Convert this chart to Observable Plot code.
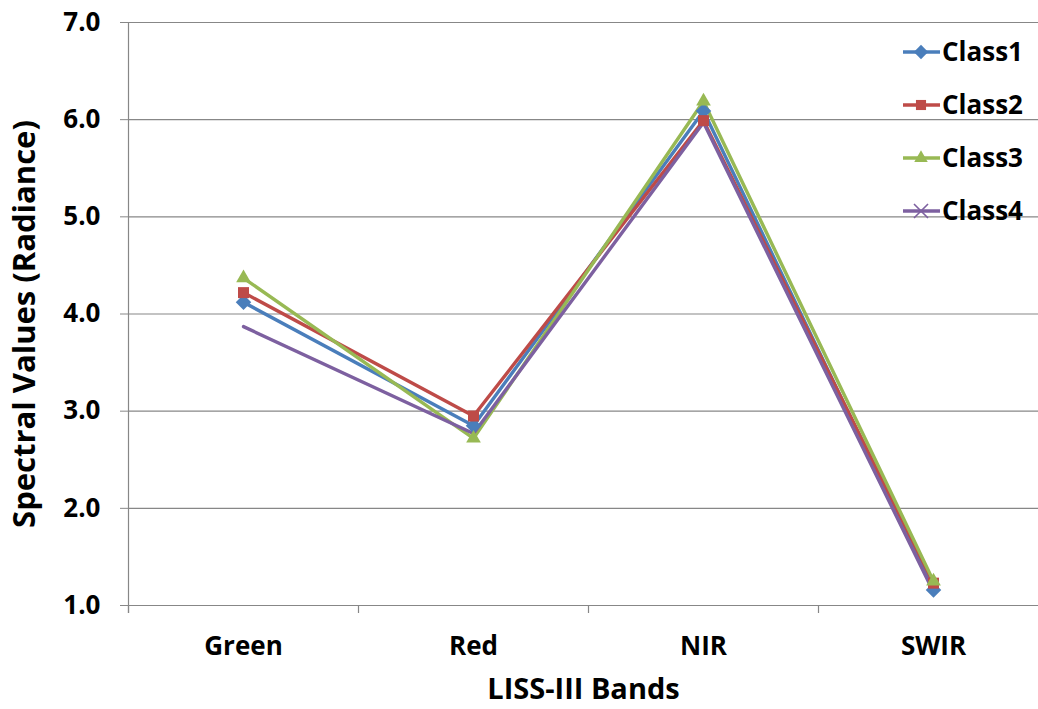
<!DOCTYPE html>
<html>
<head>
<meta charset="utf-8">
<script src="https://cdn.jsdelivr.net/npm/d3@7"></script>
<script src="https://cdn.jsdelivr.net/npm/@observablehq/plot@0.6"></script>
<style>
  body { margin: 0; background: #fff; }
  #wrap { position: relative; width: 1038px; height: 709px; overflow: hidden; }
  #wrap svg { font-family: "Open Sans", sans-serif; }
  #legend { position: absolute; left: 0; top: 0; }
</style>
</head>
<body>
<div id="wrap"></div>
<script>
const bands = ["Green", "Red", "NIR", "SWIR"];
const classes = ["Class1", "Class2", "Class3", "Class4"];
const colors = ["#4A7EBB", "#BE4B48", "#98B954", "#7D60A0"];
const symbols = ["diamond2", "square2", "triangle2", "times"];
const class1 = [4.12, 2.85, 6.09, 1.16];
const class2 = [4.22, 2.95, 5.99, 1.23];
const class3 = [4.37, 2.72, 6.19, 1.25];
const class4 = [3.87, 2.77, 5.97, 1.14];
const yTicks = [1, 2, 3, 4, 5, 6, 7];

const series = [class1, class2, class3, class4];
const data = [];
classes.forEach((c, i) => bands.forEach((b, j) => data.push({cls: c, band: b, value: series[i][j]})));

const FONT = "'Open Sans', sans-serif";
const chart = Plot.plot({
  width: 1038,
  height: 709,
  marginTop: 22,
  marginBottom: 104,
  marginLeft: 128,
  marginRight: 0,
  style: {fontFamily: FONT, background: "#fff", overflow: "visible"},
  x: {type: "band", domain: bands, range: [128, 1048], padding: 0},
  y: {domain: [1, 7]},
  color: {domain: classes, range: colors},
  symbol: {domain: classes, range: symbols},
  marks: [
    Plot.gridY(yTicks, {stroke: "#878787", strokeOpacity: 1, strokeWidth: 1.2}),
    Plot.ruleX([bands[0]], {x: d => d, dx: -115, y1: 1 - 8 / 97.2, y2: 7, stroke: "#878787", strokeWidth: 1.2}),
    Plot.ruleX(bands, {x: d => d, dx: -115, y1: 1, y2: 1 - 8 / 97.2, stroke: "#878787", strokeWidth: 1.2}),
    Plot.axisY(yTicks, {
      tickSize: 8, tickPadding: 20, tickFormat: d3.format(".1f"),
      stroke: "#878787", fill: "#000",
      label: "Spectral Values (Radiance)", labelAnchor: "center", labelOffset: 116, labelArrow: "none"
    }),
    Plot.axisX({
      tickSize: 0, tickPadding: 31, fill: "#000",
      label: "LISS-III Bands", labelAnchor: "center", labelOffset: 93, labelArrow: "none"
    }),
    Plot.line(data, {x: "band", y: "value", z: "cls", stroke: "cls", strokeWidth: 3.4}),
    Plot.dot(data, {x: "band", y: "value", symbol: "cls", fill: d => d.cls === "Class4" ? "none" : d.cls, stroke: "cls", strokeWidth: d => d.cls === "Class4" ? 1.6 : 0, r: 7})
  ]
});
// font sizing
function setFont(sel, size) {
  chart.querySelectorAll(sel).forEach(g => {
    g.setAttribute("font-size", size);
    g.setAttribute("font-weight", "bold");
    g.querySelectorAll("text").forEach(t => { t.style.fontSize = size + "px"; t.style.fontWeight = "bold"; });
  });
}
setFont("[aria-label='y-axis tick label'], [aria-label='x-axis tick label']", 26);
setFont("[aria-label='x-axis label']", 29);
setFont("[aria-label='y-axis label']", 31);
chart.querySelectorAll("[aria-label='y-axis label']").forEach(g => {
  g.setAttribute("transform", (g.getAttribute("transform") || "") + " translate(0,10)");
});
document.getElementById("wrap").appendChild(chart);

// legend
const leg = d3.select("#wrap").append("svg").attr("id", "legend").attr("width", 1038).attr("height", 709);
const sym = {diamond2: d3.symbolDiamond2, square2: d3.symbolSquare2, triangle2: d3.symbolTriangle2, times: d3.symbolTimes};
classes.forEach((c, i) => {
  const g = leg.append("g").attr("transform", `translate(0, ${52 + i * 53})`);
  g.append("line").attr("x1", 903).attr("x2", 940).attr("y1", 0).attr("y2", 0).attr("stroke", colors[i]).attr("stroke-width", 3.4);
  const isX = symbols[i] === "times";
  g.append("path").attr("transform", "translate(921,0)")
    .attr("d", d3.symbol(sym[symbols[i]], 130)())
    .attr("fill", isX ? "none" : colors[i]).attr("stroke", colors[i]).attr("stroke-width", isX ? 1.6 : 0);
  g.append("text").attr("x", 942).attr("y", 0).attr("dy", "0.35em").attr("font-size", 26).attr("font-weight", "bold")
    .attr("font-family", FONT).text(c);
});
</script>
</body>
</html>
